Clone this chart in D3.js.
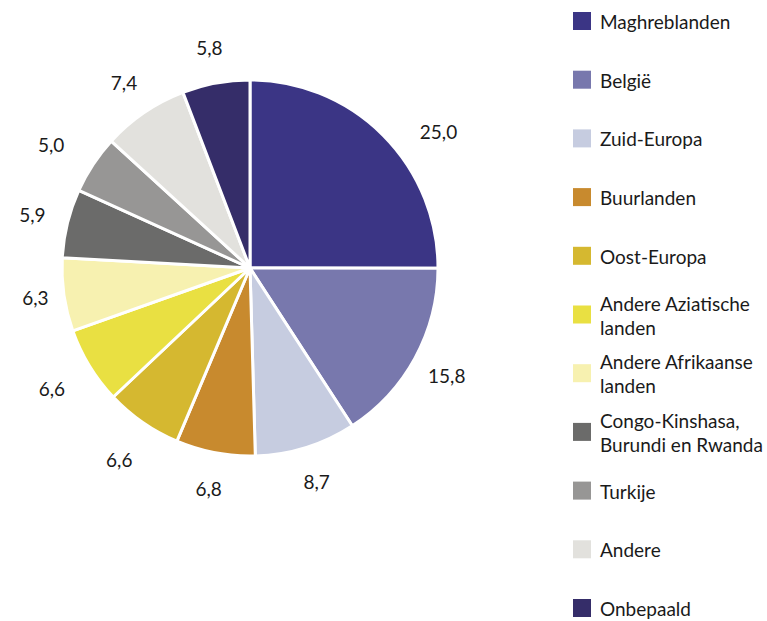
<!DOCTYPE html>
<html>
<head>
<meta charset="utf-8">
<script src="https://cdn.jsdelivr.net/npm/d3@7"></script>
<style>
  body { margin: 0; background: #fff; }
  text { font-family: Lato, "Open Sans", sans-serif; font-weight: 400; fill: #1a1a1a; }
</style>
</head>
<body>
<script>
// categories, clockwise from 12 o'clock
var categories = ["Maghreblanden", "België", "Zuid-Europa", "Buurlanden", "Oost-Europa",
  "Andere Aziatische landen", "Andere Afrikaanse landen", "Congo-Kinshasa, Burundi en Rwanda",
  "Turkije", "Andere", "Onbepaald"];
var legendLines = [["Maghreblanden"], ["België"], ["Zuid-Europa"], ["Buurlanden"], ["Oost-Europa"],
  ["Andere Aziatische", "landen"], ["Andere Afrikaanse", "landen"], ["Congo-Kinshasa,", "Burundi en Rwanda"],
  ["Turkije"], ["Andere"], ["Onbepaald"]];
var values = [25.0, 15.8, 8.7, 6.8, 6.6, 6.6, 6.3, 5.9, 5.0, 7.4, 5.8];
var colors = ["#3b3585", "#7878ad", "#c6cce0", "#c88a2e", "#d5b830",
  "#e9e042", "#f7f1b0", "#6b6b6a", "#979695", "#e2e1dd", "#352d69"];

var width = 767, height = 621;
var cx = 250, cy = 268, radius = 188;

var svg = d3.select("body").append("svg")
  .attr("width", width)
  .attr("height", height);

var pie = d3.pie().sort(null).value(function(d) { return d; });
var arcs = pie(values);
var arc = d3.arc().innerRadius(0).outerRadius(radius);
var labelArc = d3.arc().innerRadius(224).outerRadius(224);

var g = svg.append("g").attr("transform", "translate(" + cx + "," + cy + ")");

g.selectAll("path")
  .data(arcs)
  .enter()
  .append("path")
  .attr("d", arc)
  .attr("fill", function(d, i) { return colors[i]; })
  .attr("stroke", "#fff")
  .attr("stroke-width", 3)
  .attr("stroke-linejoin", "round");

// a few labels sit off the ring in the original
var labelNudge = { 0: [30, 22], 4: [-3, 8], 5: [-7, 4], 6: [7, -2], 8: [-12, 0] };

var fmt = function(v) { return d3.format(".1f")(v).replace(".", ","); };

g.selectAll("text.lbl")
  .data(arcs)
  .enter()
  .append("text")
  .attr("class", "lbl")
  .attr("x", function(d, i) { return labelArc.centroid(d)[0] + (labelNudge[i] ? labelNudge[i][0] : 0); })
  .attr("y", function(d, i) { return labelArc.centroid(d)[1] + (labelNudge[i] ? labelNudge[i][1] : 0); })
  .attr("text-anchor", "middle")
  .attr("dominant-baseline", "central")
  .style("font-size", "19px")
  .text(function(d) { return fmt(d.data); });

// legend
var legendY = d3.scalePoint().domain(d3.range(categories.length)).range([21, 608]);
var legend = svg.append("g");
var item = legend.selectAll("g")
  .data(categories)
  .enter()
  .append("g")
  .attr("transform", function(d, i) { return "translate(573," + legendY(i) + ")"; });

item.append("rect")
  .attr("x", 0)
  .attr("y", -9)
  .attr("width", 18)
  .attr("height", 18)
  .attr("fill", function(d, i) { return colors[i]; });

item.append("text")
  .attr("x", 27)
  .attr("y", function(d, i) { return legendLines[i].length > 1 ? -12 : 0; })
  .attr("dominant-baseline", "central")
  .style("font-size", "19px")
  .selectAll("tspan")
  .data(function(d, i) { return legendLines[i]; })
  .enter()
  .append("tspan")
  .attr("x", 27)
  .attr("dy", function(d, j) { return j === 0 ? 0 : 24; })
  .text(function(d) { return d; });
</script>
</body>
</html>
